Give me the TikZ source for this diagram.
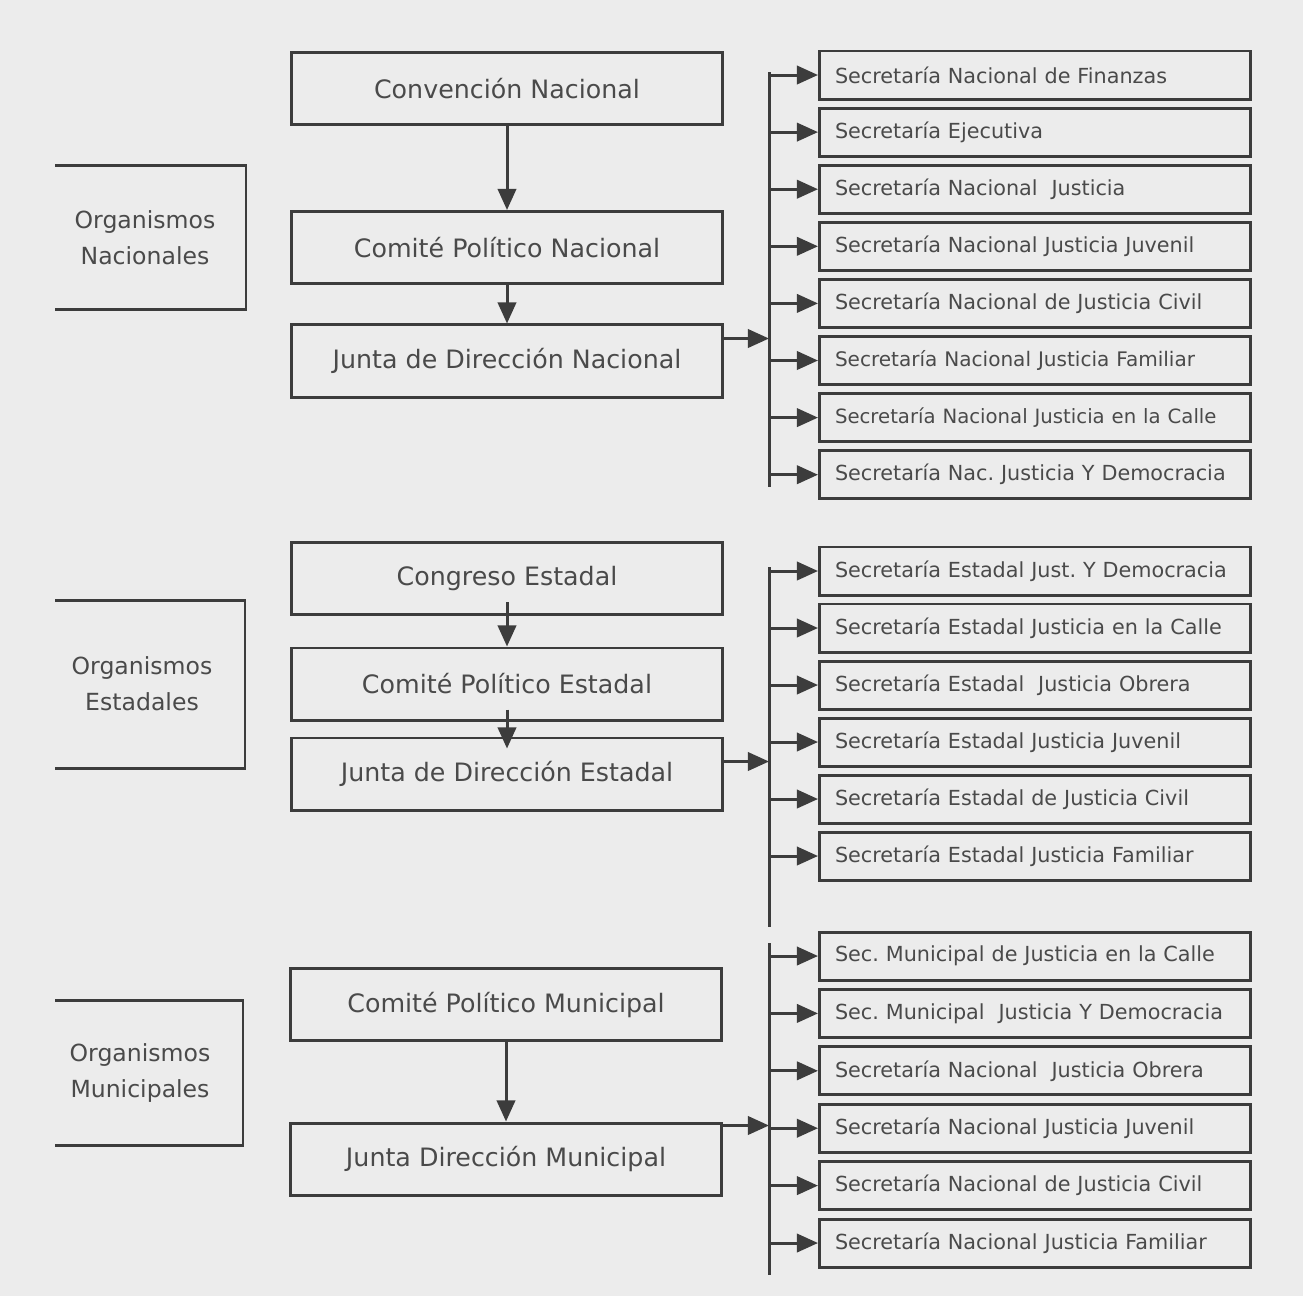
\documentclass[tikz,border=0pt]{standalone}
\usepackage{fontspec}
\setmainfont{DejaVu Sans}
\usepackage{tikz}
\usetikzlibrary{arrows.meta}
\tikzset{>={Triangle[length=6pt,width=5.2pt]}}
\definecolor{paper}{HTML}{ECECEC}
\definecolor{ink}{HTML}{3C3C3C}
\definecolor{inktext}{HTML}{4A4A4A}
\frenchspacing

\begin{document}
\begin{tikzpicture}[x=0.01cm, y=-0.01cm, line width=0.85pt, color=ink,
    mainbox/.style={draw, fill=paper, minimum width=4.31cm, minimum height=0.72cm, text=inktext, font=\fontsize{7.2}{8}\selectfont},
    secbox/.style={draw, fill=paper, anchor=west, minimum height=0.48cm, text width=4.0cm, inner xsep=0.155cm, align=left, text=inktext, font=\fontsize{5.9}{7}\selectfont},
    orglabel/.style={align=center, text=inktext, font=\fontsize{6.7}{10.2}\selectfont},
    arr/.style={->, line width=0.85pt}]
  \fill[paper] (0,0) rectangle (1303,1296);
  \useasboundingbox (0,0) rectangle (1303,1296);

  % organismos nacionales
  \draw (55,165) -| (246,309) -- (55,309);
  \node[orglabel] (orgn) at (145,238) {Organismos\\Nacionales};
  \node[mainbox] (cvn) at (507,88.5) {Convención Nacional};
  \node[mainbox] (cpn) at (507,247.5) {Comité Político Nacional};
  \node[mainbox] (jdn) at (507,361) {Junta de Dirección Nacional};
  \draw[arr] (cvn.south) -- (cpn.north);
  \draw[arr] (cpn.south) -- (jdn.north);
  \coordinate (busN) at (769,72);
  \coordinate (busNe) at (769,487);
  \draw (busN) -- (busNe);
  \coordinate (jn) at ([yshift=-0.15cm]jdn.north east);
  \draw[arr] (jn) -- (jn -| busN);
  \foreach \t [count=\i] in {Secretaría Nacional de Finanzas, Secretaría Ejecutiva,
      Secretaría Nacional\ \ Justicia, Secretaría Nacional Justicia Juvenil,
      Secretaría Nacional de Justicia Civil, {\fontsize{5.7}{7}\selectfont Secretaría Nacional Justicia Familiar},
      {\fontsize{5.6}{7}\selectfont Secretaría Nacional Justicia en la Calle}, Secretaría Nac. Justicia Y Democracia}{
    \node[secbox] (sn\i) at (818,{75+(\i-1)*57.1}) {\t};
    \draw[arr] (sn\i.west -| busN) -- (sn\i.west);
  }

  % organismos estadales
  \draw (55,600) -| (245,768) -- (55,768);
  \node[orglabel] (orge) at (142,684) {Organismos\\Estadales};
  \node[mainbox] (ces) at (507,578.5) {Congreso Estadal};
  \node[mainbox] (cpe) at (507,684) {Comité Político Estadal};
  \node[mainbox] (jde) at (507,774) {Junta de Dirección Estadal};
  \draw[arr] ([yshift=0.14cm]ces.south) -- (cpe.north);
  \draw[arr] ([yshift=0.12cm]cpe.south) -- ([yshift=-0.12cm]jde.north);
  \coordinate (busE) at (769,567);
  \coordinate (busEe) at (769,927);
  \draw (busE) -- (busEe);
  \coordinate (je) at ([yshift=-0.25cm]jde.north east);
  \draw[arr] (je) -- (je -| busE);
  \foreach \t [count=\i] in {Secretaría Estadal Just. Y Democracia,
      Secretaría Estadal Justicia en la Calle, Secretaría Estadal\ \ Justicia Obrera,
      Secretaría Estadal Justicia Juvenil, Secretaría Estadal de Justicia Civil,
      Secretaría Estadal Justicia Familiar}{
    \node[secbox] (se\i) at (818,{571+(\i-1)*57}) {\t};
    \draw[arr] (se\i.west -| busE) -- (se\i.west);
  }

  % organismos municipales
  \draw (55,1000) -| (243,1145) -- (55,1145);
  \node[orglabel] (orgm) at (140,1073) {Organismos\\Municipales};
  \node[mainbox] (cpm) at (506,1004.5) {Comité Político Municipal};
  \node[mainbox] (jdm) at (506,1159) {Junta Dirección Municipal};
  \draw[arr] (cpm.south) -- (jdm.north);
  \coordinate (busM) at (769,943);
  \coordinate (busMe) at (769,1275);
  \draw (busM) -- (busMe);
  \coordinate (jm) at ([yshift=-0.04cm]jdm.north east);
  \draw[arr] (jm) -- (jm -| busM);
  \foreach \t [count=\i] in {Sec. Municipal de Justicia en la Calle,
      Sec. Municipal\ \ Justicia Y Democracia, Secretaría Nacional\ \ Justicia Obrera,
      Secretaría Nacional Justicia Juvenil, Secretaría Nacional de Justicia Civil,
      Secretaría Nacional Justicia Familiar}{
    \node[secbox] (sm\i) at (818,{956+(\i-1)*57.4}) {\t};
    \draw[arr] (sm\i.west -| busM) -- (sm\i.west);
  }
\end{tikzpicture}
\end{document}
